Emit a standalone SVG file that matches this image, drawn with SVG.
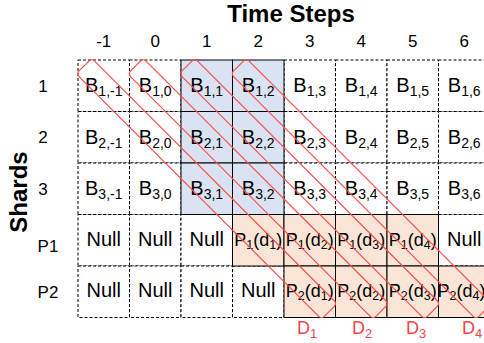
<svg xmlns="http://www.w3.org/2000/svg" width="484" height="343" viewBox="0 0 484 343">
<style>
text{font-family:"Liberation Sans",Arial,sans-serif;fill:#000}
.c{stroke:#000;stroke-width:1}
.w{fill:#fff;stroke-dasharray:3 2}
.b{fill:#dae3f3}
.o{fill:#fbe5d6}
.t{font-size:20px;text-anchor:middle}
.p{font-size:18px;text-anchor:middle}
.s{font-size:14px}
.sp{font-size:12.5px}
.h{font-size:17px;text-anchor:middle}
.ttl{font-size:24px;font-weight:bold;text-anchor:middle}
.band{fill:none;stroke:#ff4d4d;stroke-width:1.2}
.dl{font-size:18px;fill:#f04848}
</style>
<g id="title"><text class="ttl" x="291" y="22">Time Steps</text></g>
<g id="yaxis"><text class="ttl" transform="translate(27,192) rotate(-90)">Shards</text></g>
<g id="col-headers">
<text class="h" x="103.75" y="47">-1</text>
<text class="h" x="155.25" y="47">0</text>
<text class="h" x="206.75" y="47">1</text>
<text class="h" x="258.25" y="47">2</text>
<text class="h" x="309.75" y="47">3</text>
<text class="h" x="361.25" y="47">4</text>
<text class="h" x="412.75" y="47">5</text>
<text class="h" x="464.25" y="47">6</text>
</g>
<g id="row-headers">
<text class="h" x="43" y="92">1</text>
<text class="h" x="43" y="143">2</text>
<text class="h" x="43" y="195">3</text>
<text class="h" x="48" y="252">P1</text>
<text class="h" x="48" y="298">P2</text>
</g>
<!-- white dashed cells -->
<g id="B1m1"><rect class="c w" x="78" y="60" width="51.5" height="51.5"/><text class="t" x="103.75" y="92">B<tspan class="s" dy="4">1,-1</tspan></text></g>
<g id="B10"><rect class="c w" x="129.5" y="60" width="51.5" height="51.5"/><text class="t" x="155.25" y="92">B<tspan class="s" dy="4">1,0</tspan></text></g>
<g id="B13"><rect class="c w" x="284" y="60" width="51.5" height="51.5"/><text class="t" x="309.75" y="92">B<tspan class="s" dy="4">1,3</tspan></text></g>
<g id="B14"><rect class="c w" x="335.5" y="60" width="51.5" height="51.5"/><text class="t" x="361.25" y="92">B<tspan class="s" dy="4">1,4</tspan></text></g>
<g id="B15"><rect class="c w" x="387" y="60" width="51.5" height="51.5"/><text class="t" x="412.75" y="92">B<tspan class="s" dy="4">1,5</tspan></text></g>
<g id="B16"><rect class="c w" x="438.5" y="60" width="51.5" height="51.5"/><text class="t" x="464.25" y="92">B<tspan class="s" dy="4">1,6</tspan></text></g>
<g id="B2m1"><rect class="c w" x="78" y="111.5" width="51.5" height="51.5"/><text class="t" x="103.75" y="143.5">B<tspan class="s" dy="4">2,-1</tspan></text></g>
<g id="B20"><rect class="c w" x="129.5" y="111.5" width="51.5" height="51.5"/><text class="t" x="155.25" y="143.5">B<tspan class="s" dy="4">2,0</tspan></text></g>
<g id="B23"><rect class="c w" x="284" y="111.5" width="51.5" height="51.5"/><text class="t" x="309.75" y="143.5">B<tspan class="s" dy="4">2,3</tspan></text></g>
<g id="B24"><rect class="c w" x="335.5" y="111.5" width="51.5" height="51.5"/><text class="t" x="361.25" y="143.5">B<tspan class="s" dy="4">2,4</tspan></text></g>
<g id="B25"><rect class="c w" x="387" y="111.5" width="51.5" height="51.5"/><text class="t" x="412.75" y="143.5">B<tspan class="s" dy="4">2,5</tspan></text></g>
<g id="B26"><rect class="c w" x="438.5" y="111.5" width="51.5" height="51.5"/><text class="t" x="464.25" y="143.5">B<tspan class="s" dy="4">2,6</tspan></text></g>
<g id="B3m1"><rect class="c w" x="78" y="163" width="51.5" height="51.5"/><text class="t" x="103.75" y="195">B<tspan class="s" dy="4">3,-1</tspan></text></g>
<g id="B30"><rect class="c w" x="129.5" y="163" width="51.5" height="51.5"/><text class="t" x="155.25" y="195">B<tspan class="s" dy="4">3,0</tspan></text></g>
<g id="B33"><rect class="c w" x="284" y="163" width="51.5" height="51.5"/><text class="t" x="309.75" y="195">B<tspan class="s" dy="4">3,3</tspan></text></g>
<g id="B34"><rect class="c w" x="335.5" y="163" width="51.5" height="51.5"/><text class="t" x="361.25" y="195">B<tspan class="s" dy="4">3,4</tspan></text></g>
<g id="B35"><rect class="c w" x="387" y="163" width="51.5" height="51.5"/><text class="t" x="412.75" y="195">B<tspan class="s" dy="4">3,5</tspan></text></g>
<g id="B36"><rect class="c w" x="438.5" y="163" width="51.5" height="51.5"/><text class="t" x="464.25" y="195">B<tspan class="s" dy="4">3,6</tspan></text></g>
<g id="P1m1"><rect class="c w" x="78" y="214.5" width="51.5" height="51.5"/><text class="t" x="103.75" y="246">Null</text></g>
<g id="P10"><rect class="c w" x="129.5" y="214.5" width="51.5" height="51.5"/><text class="t" x="155.25" y="246">Null</text></g>
<g id="P11"><rect class="c w" x="181" y="214.5" width="51.5" height="51.5"/><text class="t" x="206.75" y="246">Null</text></g>
<g id="P16"><rect class="c w" x="438.5" y="214.5" width="51.5" height="51.5"/><text class="t" x="464.25" y="246">Null</text></g>
<g id="P2m1"><rect class="c w" x="78" y="266" width="51.5" height="51.5"/><text class="t" x="103.75" y="297">Null</text></g>
<g id="P20"><rect class="c w" x="129.5" y="266" width="51.5" height="51.5"/><text class="t" x="155.25" y="297">Null</text></g>
<g id="P21"><rect class="c w" x="181" y="266" width="51.5" height="51.5"/><text class="t" x="206.75" y="297">Null</text></g>
<g id="P22"><rect class="c w" x="232.5" y="266" width="51.5" height="51.5"/><text class="t" x="258.25" y="297">Null</text></g>
<!-- blue cells -->
<g id="B11"><rect class="c b" x="181" y="60" width="51.5" height="51.5"/><text class="t" x="206.75" y="92">B<tspan class="s" dy="4">1,1</tspan></text></g>
<g id="B12"><rect class="c b" x="232.5" y="60" width="51.5" height="51.5"/><text class="t" x="258.25" y="92">B<tspan class="s" dy="4">1,2</tspan></text></g>
<g id="B21"><rect class="c b" x="181" y="111.5" width="51.5" height="51.5"/><text class="t" x="206.75" y="143.5">B<tspan class="s" dy="4">2,1</tspan></text></g>
<g id="B22"><rect class="c b" x="232.5" y="111.5" width="51.5" height="51.5"/><text class="t" x="258.25" y="143.5">B<tspan class="s" dy="4">2,2</tspan></text></g>
<g id="B31"><rect class="c b" x="181" y="163" width="51.5" height="51.5"/><text class="t" x="206.75" y="195">B<tspan class="s" dy="4">3,1</tspan></text></g>
<g id="B32"><rect class="c b" x="232.5" y="163" width="51.5" height="51.5"/><text class="t" x="258.25" y="195">B<tspan class="s" dy="4">3,2</tspan></text></g>
<!-- orange cells -->
<g id="P1d1"><rect class="c o" x="232.5" y="214.5" width="51.5" height="51.5"/><text class="p" x="258.25" y="246">P<tspan class="sp" dy="3">1</tspan><tspan dy="-3">(d</tspan><tspan class="sp" dy="3">1</tspan><tspan dy="-3">)</tspan></text></g>
<g id="P1d2"><rect class="c o" x="284" y="214.5" width="51.5" height="51.5"/><text class="p" x="309.75" y="246">P<tspan class="sp" dy="3">1</tspan><tspan dy="-3">(d</tspan><tspan class="sp" dy="3">2</tspan><tspan dy="-3">)</tspan></text></g>
<g id="P1d3"><rect class="c o" x="335.5" y="214.5" width="51.5" height="51.5"/><text class="p" x="361.25" y="246">P<tspan class="sp" dy="3">1</tspan><tspan dy="-3">(d</tspan><tspan class="sp" dy="3">3</tspan><tspan dy="-3">)</tspan></text></g>
<g id="P1d4"><rect class="c o" x="387" y="214.5" width="51.5" height="51.5"/><text class="p" x="412.75" y="246">P<tspan class="sp" dy="3">1</tspan><tspan dy="-3">(d</tspan><tspan class="sp" dy="3">4</tspan><tspan dy="-3">)</tspan></text></g>
<g id="P2d1"><rect class="c o" x="284" y="266" width="51.5" height="51.5"/><text class="p" x="309.75" y="297">P<tspan class="sp" dy="3">2</tspan><tspan dy="-3">(d</tspan><tspan class="sp" dy="3">1</tspan><tspan dy="-3">)</tspan></text></g>
<g id="P2d2"><rect class="c o" x="335.5" y="266" width="51.5" height="51.5"/><text class="p" x="361.25" y="297">P<tspan class="sp" dy="3">2</tspan><tspan dy="-3">(d</tspan><tspan class="sp" dy="3">2</tspan><tspan dy="-3">)</tspan></text></g>
<g id="P2d3"><rect class="c o" x="387" y="266" width="51.5" height="51.5"/><text class="p" x="412.75" y="297">P<tspan class="sp" dy="3">2</tspan><tspan dy="-3">(d</tspan><tspan class="sp" dy="3">3</tspan><tspan dy="-3">)</tspan></text></g>
<g id="P2d4"><rect class="c o" x="438.5" y="266" width="51.5" height="51.5"/><text class="p" x="461.5" y="297">P<tspan class="sp" dy="3">2</tspan><tspan dy="-3">(d</tspan><tspan class="sp" dy="3">4</tspan><tspan dy="-3">)</tspan></text></g>
<!-- diagonal groupings -->
<g id="connectors">
<rect class="band" transform="translate(84,66) rotate(45)" x="0" y="-11" width="347" height="22" rx="4"/>
<rect class="band" transform="translate(135.5,66) rotate(45)" x="0" y="-11" width="347" height="22" rx="4"/>
<rect class="band" transform="translate(187,66) rotate(45)" x="0" y="-11" width="347" height="22" rx="4"/>
<rect class="band" transform="translate(238.5,66) rotate(45)" x="0" y="-11" width="347" height="22" rx="4"/>
</g>
<g id="band-labels">
<text class="dl" x="297" y="334">D<tspan font-size="13" dy="4">1</tspan></text>
<text class="dl" x="352" y="334">D<tspan font-size="13" dy="4">2</tspan></text>
<text class="dl" x="406" y="334">D<tspan font-size="13" dy="4">3</tspan></text>
<text class="dl" x="462" y="334">D<tspan font-size="13" dy="4">4</tspan></text>
</g>
</svg>
